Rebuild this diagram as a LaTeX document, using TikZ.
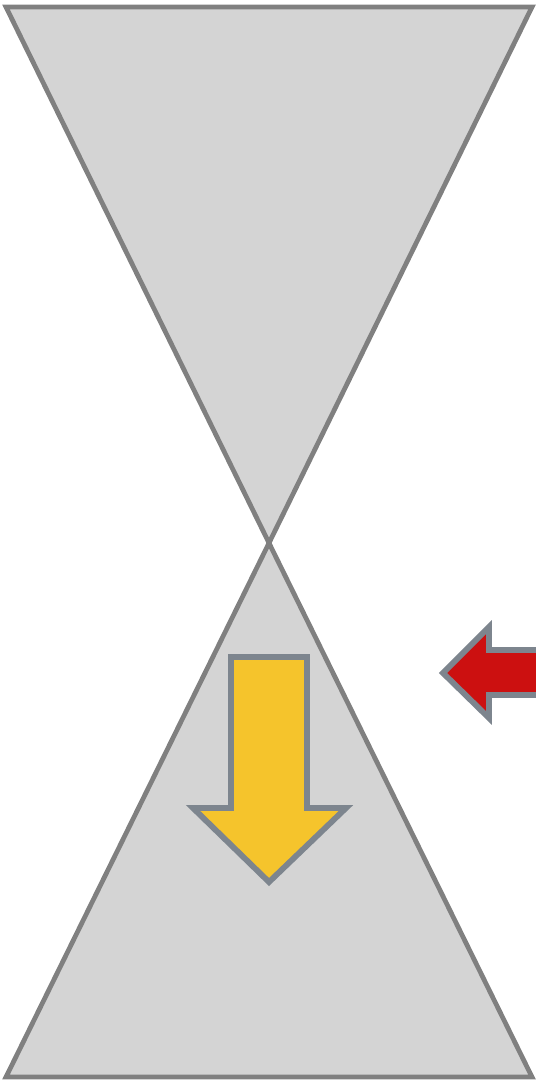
\documentclass[tikz,border=0pt]{standalone}
\usepackage{tikz}
\definecolor{coneFill}{RGB}{212,212,212}
\definecolor{coneLine}{RGB}{128,128,128}
\definecolor{arrowLine}{RGB}{125,133,142}
\definecolor{fallYellow}{RGB}{245,196,44}
\definecolor{pushRed}{RGB}{204,16,16}
\tikzset{
    cone/.style={fill=coneFill, draw=coneLine, line width=2.7pt, line join=miter},
    block arrow/.style={draw=arrowLine, line width=3.3pt, line join=miter}
}

\begin{document}
\begin{tikzpicture}[x=0.02cm, y=-0.02cm]

                % page frame
                \useasboundingbox (0,0) rectangle (535,1081);

                % corners of the two cones
                \coordinate (top-left) at (6,7);
                \coordinate (top-right) at (532,7);
                \coordinate (apex) at (269,543);
                \coordinate (bottom-left) at (6,1077);
                \coordinate (bottom-right) at (532,1077);

                % upper cone
                \draw [cone] (top-left) -- (top-right) -- (apex) -- cycle;

                % lower cone
                \draw [cone] (apex) -- (bottom-right) -- (bottom-left) -- cycle;

                % yellow arrow (down)
                \draw [block arrow, fill=fallYellow]
                    (231,657) -- (307,657) -- (307,808) -- (346,808)
                    -- (269,882) -- (193,808) -- (231,808) -- cycle;

                % red arrow (left), runs off the page
                \draw [block arrow, fill=pushRed]
                    (560,650) -- (489,650) -- (489,627) -- (443,673)
                    -- (489,718) -- (489,695) -- (560,695) -- cycle;

            \end{tikzpicture}
\end{document}
